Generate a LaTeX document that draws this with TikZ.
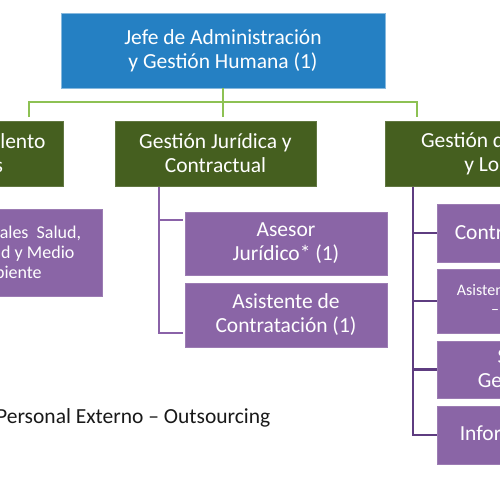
\documentclass[tikz,border=0pt]{standalone}
\usepackage{fontspec}
\setmainfont{Carlito}
\definecolor{cblue}{HTML}{2580C3}
\definecolor{cgreen}{HTML}{455F1F}
\definecolor{cpurple}{HTML}{8A65A6}
\definecolor{clgreen}{HTML}{8DC153}
\definecolor{cpline}{HTML}{8A62A8}
\definecolor{cpdark}{HTML}{5E3C80}
\begin{document}
\begin{tikzpicture}[x=1pt,y=-1pt,
  box/.style={rectangle, inner sep=0pt, text=white, align=center,
    font=\fontsize{21.5}{24}\selectfont, line width=0.6pt},
  bluebox/.style={box, fill=cblue, draw=cblue!55!white},
  greenbox/.style={box, fill=cgreen, draw=cgreen!85!white, minimum height=65pt},
  purplebox/.style={box, fill=cpurple, draw=cpurple!85!white},
  gline/.style={draw=clgreen, line width=2.6pt},
  pline/.style={draw=cpline, line width=2.2pt},
  pdark/.style={draw=cpdark, line width=2.6pt},
  small/.style={font=\fontsize{18}{20}\selectfont},
  smaller/.style={font=\fontsize{16}{19}\selectfont}]
\useasboundingbox (0,0) rectangle (500,480);
\clip (0,0) rectangle (500,480);
\fill[white] (0,0) rectangle (500,480);

% top
\node[bluebox, minimum width=324pt, minimum height=75pt] (top) at (223,50.5)
  {Jefe de Administración\\y Gestión Humana (1)};

% level 2
\node[greenbox, minimum width=203pt] (gl) at (-38.5,153.5) {Gestión del Talento\\Humanos};
\node[greenbox, minimum width=201pt] (gm) at (215.5,153.5) {Gestión Jurídica y\\Contractual};
\node[greenbox, minimum width=248pt] (gr) at (509,153.5) {Gestión de Compras\\y Logística};

% level 3 left
\node[purplebox, small, minimum width=192pt, minimum height=87pt] (pl) at (6,252.5)
  {Profesionales\ \ Salud,\\Seguridad y Medio\\Ambiente};

% level 3 middle
\node[purplebox, minimum width=202pt, minimum height=63pt] (as) at (286,243.5) {Asesor\\Jurídico* (1)};
\node[purplebox, minimum width=202pt, minimum height=64pt] (asis) at (286,315) {Asistente de\\Contratación (1)};

% level 3 right
\node[purplebox, minimum width=198pt, minimum height=58pt] (r1) at (536,233) {Control Interno (1)};
\node[purplebox, smaller, minimum width=198pt, minimum height=64pt] (r2) at (536,301) {Asistente Administrativo\\– Almacén (1)};
\node[purplebox, minimum width=198pt, minimum height=57pt] (r3) at (536,369.5) {Servicios\\Generales (1)};
\node[purplebox, minimum width=198pt, minimum height=58pt] (r4) at (536,435) {Información y TIC};

% green connectors
\coordinate (gL) at (29,117);
\coordinate (gR) at (417,117);
\coordinate (gM) at (223,102);
\draw[gline] (top.south) -- (top.south |- gL);
\draw[gline] (gL) -- (gL |- gM) -- (gR |- gM) -- (gR);

% middle purple connectors
\coordinate (pm) at (159,187);
\draw[pline, shorten >=2pt] (pm) |- ([yshift=-8pt]as.north west);
\draw[pline, shorten >=2pt] (pm) |- ([yshift=14pt]asis.south west);

% right purple connectors
\coordinate (pr) at (413,187);
\draw[pdark] (pr) |- (r1.west);
\draw[pdark] (pr) |- (r2.west);
\draw[pdark] (pr) |- (r3.west);
\draw[pdark] (pr) |- (r4.west);

% legend text
\node[anchor=base west, inner sep=0pt, text=black!90, font=\fontsize{21.5}{24}\selectfont] (ext) at (-4,423)
  {Personal Externo – Outsourcing};
\end{tikzpicture}
\end{document}
